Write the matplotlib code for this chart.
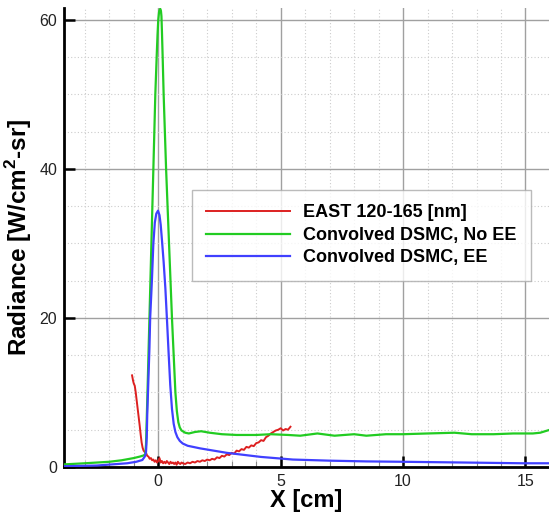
import matplotlib
matplotlib.use("Agg")
import matplotlib.pyplot as plt
from matplotlib.ticker import MultipleLocator

plt.rcParams['font.family'] = ['Liberation Sans', 'DejaVu Sans']
plt.rcParams['mathtext.fontset'] = 'custom'
plt.rcParams['mathtext.rm'] = 'Liberation Sans'
plt.rcParams['mathtext.bf'] = 'Liberation Sans:bold'

# ---- data ----
green_x = [-3.85, -3.0, -2.0, -1.5, -1.0, -0.75, -0.6, -0.53, -0.5, -0.44, -0.36, -0.28,
           -0.2, -0.12, -0.06, -0.03, 0.0, 0.03, 0.05, 0.08, 0.11, 0.13, 0.15, 0.18, 0.22,
           0.32, 0.44, 0.56, 0.7, 0.76, 0.82, 0.88, 0.95, 1.1, 1.25, 1.5, 1.75, 2.1, 2.6,
           3.2, 4.0, 4.6, 5.3, 5.8, 6.5, 7.2, 8.0, 8.5, 9.3, 10.0, 11.0, 12.1, 12.8, 13.7,
           14.5, 15.3, 15.6, 16.0]
green_y = [0.35, 0.5, 0.7, 0.9, 1.2, 1.4, 1.55, 1.7, 3.0, 10.0, 20.0, 30.0,
           40.0, 50.0, 55.5, 58.0, 60.0, 61.0, 61.3, 61.5, 61.2, 60.5, 58.5, 55.0, 50.0,
           40.0, 30.0, 20.0, 10.0, 7.5, 6.0, 5.3, 4.9, 4.6, 4.5, 4.7, 4.8, 4.6, 4.4,
           4.3, 4.3, 4.4, 4.3, 4.2, 4.5, 4.2, 4.4, 4.2, 4.4, 4.4, 4.5, 4.6, 4.4, 4.4,
           4.5, 4.5, 4.6, 5.0]

blue_x = [-3.85, -2.5, -1.27, -0.9, -0.65, -0.55, -0.5, -0.47, -0.45, -0.42, -0.36, -0.33,
          -0.26, -0.2, -0.14, -0.08, -0.01, 0.05, 0.1, 0.15, 0.22, 0.29, 0.36, 0.42, 0.49,
          0.56, 0.63, 0.7, 0.78, 0.88, 1.0, 1.2, 1.71, 2.8, 4.2, 5.5, 7.0, 8.5, 10.0, 12.5,
          14.9, 16.0]
blue_y = [0.1, 0.2, 0.5, 0.7, 0.94, 1.4, 2.0, 4.0, 7.0, 10.0, 16.0, 20.0,
          25.0, 30.0, 32.8, 34.0, 34.4, 33.8, 32.5, 30.5, 27.5, 24.0, 19.5, 15.5, 11.0,
          7.8, 5.8, 4.7, 4.0, 3.5, 3.15, 2.85, 2.5, 1.9, 1.35, 1.0, 0.85, 0.75, 0.7, 0.6,
          0.5, 0.5]

red_x = [-1.07, -1.03, -1.0, -0.96, -0.92, -0.88, -0.84, -0.8, -0.76, -0.72, -0.68,
         -0.64, -0.6, -0.55, -0.5, -0.45, -0.4, -0.35, -0.3, -0.25, -0.2, -0.15, -0.1,
         -0.05, 0.0, 0.05, 0.1, 0.15, 0.2, 0.25, 0.3, 0.35, 0.4, 0.45, 0.5, 0.55, 0.6,
         0.65, 0.7, 0.75, 0.8, 0.85, 0.9, 0.95, 1.0, 1.1, 1.2, 1.3,
         1.4, 1.5, 1.6, 1.7, 1.8, 1.9, 2.0, 2.1, 2.2, 2.3, 2.4, 2.5, 2.6, 2.7, 2.8, 2.9,
         3.0, 3.1, 3.2, 3.3, 3.4, 3.5, 3.6, 3.7, 3.8, 3.9, 4.0, 4.1, 4.2, 4.3, 4.4, 4.5,
         4.6, 4.7, 4.8, 4.9, 5.0, 5.1, 5.2, 5.3, 5.4]
red_y = [12.3, 11.6, 11.2, 10.9, 10.0, 8.9, 7.8, 6.7, 5.6, 4.4, 3.3,
         2.6, 2.2, 2.0, 1.9, 1.5, 1.4, 1.1, 1.2, 0.9, 1.0, 0.7, 0.9,
         0.6, 0.8, 1.2, 0.6, 0.8, 0.5, 0.7, 0.5, 0.8, 0.6, 0.4, 0.7, 0.5, 0.6,
         0.4, 0.6, 0.3, 0.7, 0.5, 0.4, 0.6, 0.5, 0.4, 0.6, 0.5,
         0.7, 0.6, 0.8, 0.7, 0.9, 0.8, 1.0, 0.9, 1.1, 1.0, 1.3, 1.2, 1.5, 1.4, 1.7, 1.6,
         1.9, 1.8, 2.2, 2.1, 2.4, 2.3, 2.7, 2.6, 2.9, 2.8, 3.2, 3.3, 3.6, 3.5, 4.0, 4.2,
         4.5, 4.7, 4.9, 5.0, 5.2, 4.9, 5.1, 5.0, 5.4]

labels = ['EAST 120-165 [nm]', 'Convolved DSMC, No EE', 'Convolved DSMC, EE']
colors = ['#dd2020', '#22cc22', '#4040ff']

# ---- figure ----
fig = plt.figure(figsize=(5.49, 5.12), dpi=100)
ax = fig.add_axes([64/549, 1-467/512, 1-64/549, (467-8)/512])

ax.plot(red_x, red_y, color=colors[0], lw=1.4, label=labels[0], zorder=3)
ax.plot(green_x, green_y, color=colors[1], lw=1.6, label=labels[1], zorder=3)
ax.plot(blue_x, blue_y, color=colors[2], lw=1.6, label=labels[2], zorder=3)

ax.set_xlim(-3.85, 15.96)
ax.set_ylim(0, 61.6)
ax.xaxis.set_major_locator(MultipleLocator(5))
ax.xaxis.set_minor_locator(MultipleLocator(1))
ax.yaxis.set_major_locator(MultipleLocator(20))
ax.yaxis.set_minor_locator(MultipleLocator(5))

ax.grid(which='major', color='#a0a0a0', lw=1.0, ls='-', zorder=0)
ax.grid(which='minor', color='#cccccc', lw=0.8, ls=(0, (1, 2)), zorder=0)
ax.set_axisbelow(True)

for s in ['top', 'right']:
    ax.spines[s].set_visible(False)
for s in ['left', 'bottom']:
    ax.spines[s].set_linewidth(2.0)
    ax.spines[s].set_color('black')

ax.tick_params(which='major', direction='in', length=8, width=1.8, labelsize=11.5,
               pad=5, colors='black')
ax.tick_params(axis='x', which='minor', direction='in', length=4, width=0.8, color='#888888')
ax.tick_params(axis='y', which='minor', length=0)
for lab in ax.get_xticklabels() + ax.get_yticklabels():
    lab.set_color('#222222')

ax.set_xlabel('X [cm]', fontsize=17, fontweight='bold', labelpad=0)
ax.set_ylabel(r'Radiance [W/cm$^\mathbf{2}$-sr]', fontsize=17.5, fontweight='bold', labelpad=4)

leg = ax.legend(loc='upper left', bbox_to_anchor=(192/549, 1-190/512),
                bbox_transform=fig.transFigure, frameon=True, fancybox=False,
                prop={'weight': 'bold', 'size': 13.0}, handlelength=4.6,
                handletextpad=0.75, labelspacing=0.3, borderpad=0.8, borderaxespad=0)
leg.get_frame().set_edgecolor('#aaaaaa')
leg.get_frame().set_linewidth(1.0)

fig.savefig('out.png', dpi=100)
